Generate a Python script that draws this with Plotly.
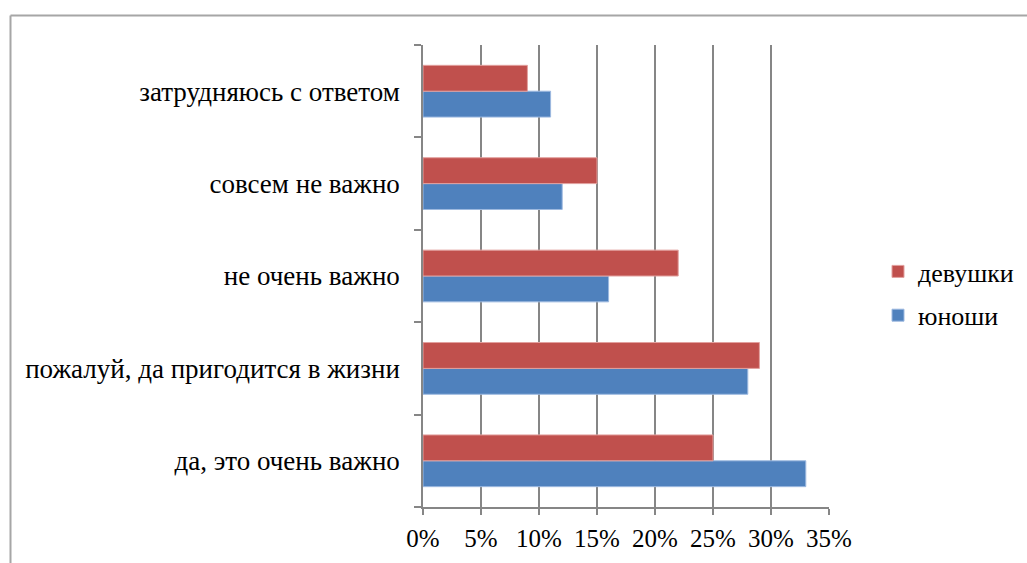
import plotly.graph_objects as go

categories = [
    "да, это очень важно",
    "пожалуй, да пригодится в жизни",
    "не очень важно",
    "совсем не важно",
    "затрудняюсь с ответом",
]
boys = [33, 28, 16, 12, 11]      # юноши, %
girls = [25, 29, 22, 15, 9]      # девушки, %
x_ticks = [0, 5, 10, 15, 20, 25, 30, 35]
x_tick_labels = [f"{v}%" for v in x_ticks]

W, H = 1027, 563
L, R, T, B = 423, 198, 45, 56
pw, ph = W - L - R, H - T - B

serif = "Liberation Serif, Times New Roman, serif"
font_cat = dict(family=serif, size=27, color="#000000")
font_x = dict(family=serif, size=25, color="#000000")
font_leg = dict(family=serif, size=26, color="#000000")
grid = "#868686"

fig = go.Figure()
fig.add_trace(go.Bar(
    y=categories, x=boys, name="юноши", orientation="h",
    legendgroup="b", legendrank=2,
    marker=dict(color="#4F81BD", line=dict(color="#9DB9E0", width=1)),
))
fig.add_trace(go.Bar(
    y=categories, x=girls, name="девушки", orientation="h",
    legendgroup="g", legendrank=1,
    marker=dict(color="#C0504D", line=dict(color="#E2A09E", width=1)),
))


def px_x(p):
    return (p - L) / pw


def px_y(p):
    return (H - B - p) / ph


# outer chart frame (left and top edges visible)
frame = dict(type="line", xref="paper", yref="paper", line=dict(color="#A6A6A6", width=2))
fig.add_shape(**frame, x0=px_x(10.5), x1=px_x(10.5), y0=px_y(15.5), y1=px_y(580))
fig.add_shape(**frame, x0=px_x(10.5), x1=px_x(1040), y0=px_y(15.5), y1=px_y(15.5))

fig.update_layout(
    width=W, height=H,
    margin=dict(l=L, r=R, t=T, b=B, pad=0, autoexpand=False),
    paper_bgcolor="white", plot_bgcolor="white",
    barmode="group", bargap=0.44, bargroupgap=0,
    font=font_cat,
    showlegend=True,
    legend=dict(
        x=px_x(878), y=px_y(248), xanchor="left", yanchor="top",
        traceorder="grouped", font=font_leg, itemwidth=30,
        tracegroupgap=7, bgcolor="rgba(0,0,0,0)",
    ),
    xaxis=dict(
        range=[0, 35], tickvals=x_ticks, ticktext=x_tick_labels,
        tickfont=font_x,
        showgrid=True, gridcolor=grid, gridwidth=1.5,
        showline=True, linecolor=grid, linewidth=1.5,
        ticks="outside", ticklen=6, tickcolor=grid, tickwidth=1.5,
        ticklabelstandoff=2, zeroline=False, fixedrange=True,
    ),
    yaxis=dict(
        categoryorder="array", categoryarray=categories,
        tickfont=font_cat,
        showline=True, linecolor=grid, linewidth=1.5,
        ticks="outside", ticklen=7, tickcolor=grid, tickwidth=1.5,
        tickson="boundaries", showgrid=False,
        ticklabelstandoff=16, fixedrange=True,
    ),
)

fig.write_html("out.html")
